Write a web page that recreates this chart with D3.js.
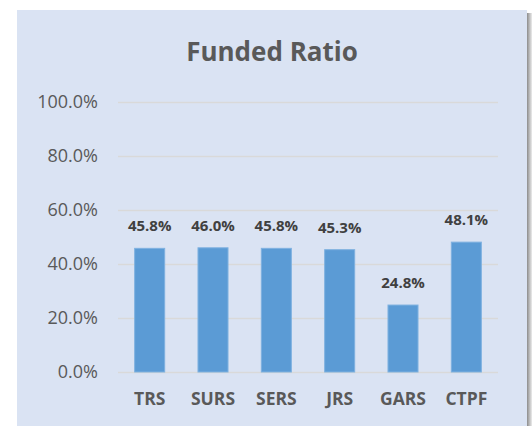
<!DOCTYPE html>
<html>
<head>
<meta charset="utf-8">
<script src="https://cdn.jsdelivr.net/npm/d3@7"></script>
<style>
  html, body { margin: 0; padding: 0; background: #fff; }
  svg { display: block; }
</style>
</head>
<body>
<script>
const categories = ['TRS', 'SURS', 'SERS', 'JRS', 'GARS', 'CTPF'];
const fundedRatio = [45.8, 46.0, 45.8, 45.3, 24.8, 48.1];
const yTicks = [0, 20, 40, 60, 80, 100];

const chartWidth = 532;
const chartHeight = 426;

const margin = {
  top: 102,
  right: 34,
  bottom: 54,
  left: 118
};

const plotWidth = chartWidth - margin.left - margin.right;
const plotHeight = chartHeight - margin.top - margin.bottom;

const fontFamily = '"Open Sans", "Noto Sans", sans-serif';

const svg = d3.select('body').append('svg')
    .attr('width', chartWidth)
    .attr('height', chartHeight);

// shadow + panel
const defs = svg.append('defs');
const grad = defs.append('linearGradient')
    .attr('id', 'shadow')
    .attr('x1', 0).attr('x2', 1).attr('y1', 0).attr('y2', 0);
grad.append('stop').attr('offset', '0%').attr('stop-color', '#8c8c8c');
grad.append('stop').attr('offset', '100%').attr('stop-color', '#ffffff');

svg.append('rect')
    .attr('x', 527)
    .attr('y', 13)
    .attr('width', 6)
    .attr('height', chartHeight - 13)
    .attr('fill', 'url(#shadow)');

svg.append('rect')
    .attr('x', 17)
    .attr('y', 10)
    .attr('width', 510)
    .attr('height', chartHeight)
    .attr('fill', '#dae3f3');

// title
svg.append('text')
    .attr('x', 272)
    .attr('y', 61)
    .attr('text-anchor', 'middle')
    .attr('font-family', fontFamily)
    .attr('font-weight', 'bold')
    .attr('font-size', 26)
    .attr('fill', '#595959')
    .text('Funded Ratio');

const container = svg.append('g')
    .attr('transform', `translate(${margin.left},${margin.top})`);

const xScale = d3.scaleBand()
    .domain(categories)
    .range([0, plotWidth])
    .paddingInner(0.526)
    .paddingOuter(0.263);

const yScale = d3.scaleLinear()
    .domain([0, 100])
    .range([plotHeight, 0]);

// gridlines + y labels
const yAxis = d3.axisLeft(yScale)
    .tickValues(yTicks)
    .tickSize(-plotWidth)
    .tickPadding(20)
    .tickFormat(d => d3.format('.1f')(d) + '%');

container.append('g')
    .attr('class', 'y axis')
    .call(yAxis)
    .call(g => g.select('.domain').remove())
    .call(g => g.selectAll('.tick line')
        .attr('stroke', '#d9d9d9')
        .attr('stroke-width', 1.5))
    .call(g => g.selectAll('.tick text')
        .attr('font-family', fontFamily)
        .attr('font-size', 18)
        .attr('fill', '#595959'));

// x labels
const xAxis = d3.axisBottom(xScale)
    .tickSize(0)
    .tickPadding(21);

container.append('g')
    .attr('class', 'x axis')
    .attr('transform', `translate(0,${plotHeight})`)
    .call(xAxis)
    .call(g => g.select('.domain').remove())
    .call(g => g.selectAll('.tick text')
        .attr('font-family', fontFamily)
        .attr('font-weight', 'bold')
        .attr('font-size', 17.5)
        .attr('fill', '#595959'));

// bars
container.selectAll('.bar')
    .data(fundedRatio)
  .enter().append('rect')
    .attr('class', 'bar')
    .attr('x', (d, i) => xScale(categories[i]))
    .attr('y', d => yScale(d))
    .attr('width', xScale.bandwidth())
    .attr('height', d => plotHeight - yScale(d))
    .attr('fill', '#5b9bd5')
    .attr('stroke', '#7fb1e0')
    .attr('stroke-width', 1);

// data labels
container.selectAll('.label')
    .data(fundedRatio)
  .enter().append('text')
    .attr('class', 'label')
    .attr('x', (d, i) => xScale(categories[i]) + xScale.bandwidth() / 2)
    .attr('y', d => yScale(d) - 17)
    .attr('text-anchor', 'middle')
    .attr('font-family', fontFamily)
    .attr('font-weight', 'bold')
    .attr('font-size', 15)
    .attr('fill', '#404040')
    .text(d => d3.format('.1f')(d) + '%');
</script>
</body>
</html>
